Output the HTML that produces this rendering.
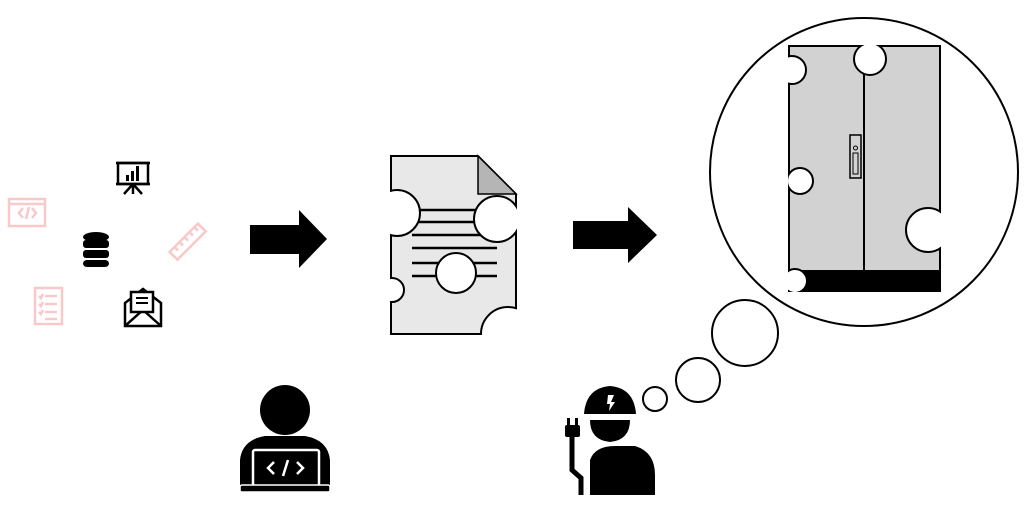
<!DOCTYPE html>
<html><head><style>html,body{margin:0;padding:0;background:#fff}svg{display:block}</style></head><body>
<svg width="1024" height="509" viewBox="0 0 1024 509" xmlns="http://www.w3.org/2000/svg">
<defs>
<clipPath id="doc"><polygon points="390,155 478,155 517,194 517,335 390,335"/></clipPath>
<clipPath id="cab"><rect x="788" y="45" width="153" height="247"/></clipPath>
</defs>
<!-- left icons -->
<g fill="none" stroke="#000" stroke-width="2.5">
<rect x="118" y="163" width="30" height="21"/>
<line x1="116" y1="163" x2="150" y2="163"/><line x1="116" y1="184" x2="150" y2="184"/>
<line x1="133" y1="184" x2="124" y2="194"/><line x1="133" y1="184" x2="142" y2="194"/><line x1="133" y1="184" x2="133" y2="194"/>
</g>
<rect x="126" y="175" width="3" height="6"/><rect x="131" y="171" width="3" height="10"/><rect x="136" y="166" width="3" height="15"/>
<g fill="#000">
<ellipse cx="96" cy="237" rx="13" ry="5"/>
<rect x="83" y="240" width="26" height="8" rx="3"/>
<rect x="83" y="250" width="26" height="8" rx="3"/>
<rect x="83" y="260" width="26" height="7" rx="4"/>
</g>
<g fill="none" stroke="#000" stroke-width="2.5">
<polygon points="125,303 143,289 161,303 161,326 125,326"/>
<polyline points="125,326 143,310 161,326"/>
</g>
<rect x="131" y="292" width="22" height="20" fill="#fff" stroke="#000" stroke-width="2.5"/>
<line x1="136" y1="298" x2="148" y2="298" stroke="#000" stroke-width="2"/><line x1="136" y1="303" x2="148" y2="303" stroke="#000" stroke-width="2"/>
<g fill="none" stroke="#f9c8c8" stroke-width="2.5">
<rect x="9" y="199" width="36" height="27"/><line x1="9" y1="204" x2="45" y2="204"/>
<polyline points="23,208 19,213 23,218"/><polyline points="32,208 36,213 32,218"/><line x1="29" y1="207" x2="26" y2="219"/>
<rect x="35" y="288" width="27" height="36"/>
<line x1="45" y1="296" x2="57" y2="296"/><line x1="45" y1="304" x2="57" y2="304"/><line x1="45" y1="312" x2="57" y2="312"/><line x1="45" y1="319" x2="57" y2="319"/>
<polyline points="39,296 41,298 43,294"/><polyline points="39,304 41,306 43,302"/><polyline points="39,312 41,314 43,310"/>
<g transform="rotate(-45 188 242)"><rect x="168" y="236" width="40" height="11"/>
<line x1="175" y1="236" x2="175" y2="241"/><line x1="182" y1="236" x2="182" y2="241"/><line x1="189" y1="236" x2="189" y2="241"/><line x1="196" y1="236" x2="196" y2="241"/><line x1="203" y1="236" x2="203" y2="241"/></g>
</g>
<!-- arrows -->
<polygon points="250,225 299,225 299,210 327,239 299,268 299,254 250,254"/>
<polygon points="573,221 628,221 628,207 657,235 628,263 628,249 573,249"/>
<!-- document -->
<polygon points="391,156 478,156 516,194 516,334 391,334" fill="#e8e8e8" stroke="#000" stroke-width="2"/>
<polygon points="478,156 516,194 478,194" fill="#b5b5b5" stroke="#000" stroke-width="1.5"/>
<g stroke="#000" stroke-width="2.5">
<line x1="412" y1="210" x2="497" y2="210"/><line x1="412" y1="222" x2="497" y2="222"/>
<line x1="412" y1="235" x2="497" y2="235"/><line x1="412" y1="248" x2="497" y2="248"/>
<line x1="412" y1="263" x2="497" y2="263"/><line x1="412" y1="276" x2="497" y2="276"/>
</g>
<g fill="#fff" stroke="#000" stroke-width="2" clip-path="url(#doc)">
<circle cx="397" cy="213" r="23"/><circle cx="497" cy="219" r="23"/><circle cx="456" cy="273" r="20"/>
<circle cx="392" cy="290" r="12"/><circle cx="508" cy="334" r="27"/>
</g>
<!-- thought -->
<circle cx="864" cy="172" r="154" fill="#fff" stroke="#000" stroke-width="2"/>
<circle cx="745" cy="333" r="33" fill="#fff" stroke="#000" stroke-width="2"/>
<circle cx="698" cy="380" r="22" fill="#fff" stroke="#000" stroke-width="2"/>
<circle cx="655" cy="399" r="12" fill="#fff" stroke="#000" stroke-width="2"/>
<!-- cabinet -->
<rect x="789" y="46" width="151" height="245" fill="#d3d2d3" stroke="#000" stroke-width="2"/>
<rect x="789" y="270" width="151" height="21" fill="#000"/>
<line x1="864" y1="46" x2="864" y2="270" stroke="#000" stroke-width="2"/>
<rect x="850" y="135" width="11" height="43" fill="none" stroke="#000" stroke-width="1.5"/>
<circle cx="855.5" cy="148" r="2" fill="none" stroke="#000"/><rect x="853" y="153" width="5" height="21" fill="none" stroke="#000"/>
<g fill="#fff" stroke="#000" stroke-width="2" clip-path="url(#cab)">
<circle cx="870" cy="59" r="16"/><circle cx="792" cy="70" r="14"/><circle cx="800" cy="181" r="13"/>
<circle cx="928" cy="230" r="22"/><circle cx="795" cy="281" r="12"/>
</g>
<!-- developer -->
<circle cx="285" cy="410" r="25"/>
<path d="M240,490 L240,460 Q242,440 265,436 L305,436 Q328,440 330,460 L330,490 Z"/>
<rect x="253" y="450" width="66" height="36" rx="2" fill="#000" stroke="#fff" stroke-width="2.5"/>
<rect x="240" y="485" width="90" height="7" rx="2" fill="#000" stroke="#fff" stroke-width="1.5"/>
<g fill="none" stroke="#fff" stroke-width="2.5"><polyline points="274,462 268,468 274,474"/><polyline points="297,462 303,468 297,474"/><line x1="288" y1="460" x2="283" y2="476"/></g>
<!-- worker -->
<path d="M584,414 Q586,388 610,386 Q634,388 636,414 Z"/>
<path d="M590,420 L630,420 Q630,440 610,442 Q590,440 590,420 Z"/>
<path d="M590,460 Q595,446 615,446 L635,446 Q655,452 655,475 L655,495 L590,495 Z"/>
<polygon points="608,395 614,395 611,402 615,402 609,411 610,404 607,404" fill="#fff"/>
<rect x="567" y="418" width="3" height="8"/><rect x="575" y="418" width="3" height="8"/>
<rect x="565" y="425" width="15" height="12" rx="2"/>
<path d="M572,437 L572,470 L581,478 L581,495" fill="none" stroke="#000" stroke-width="5"/>
</svg>
</body></html>
